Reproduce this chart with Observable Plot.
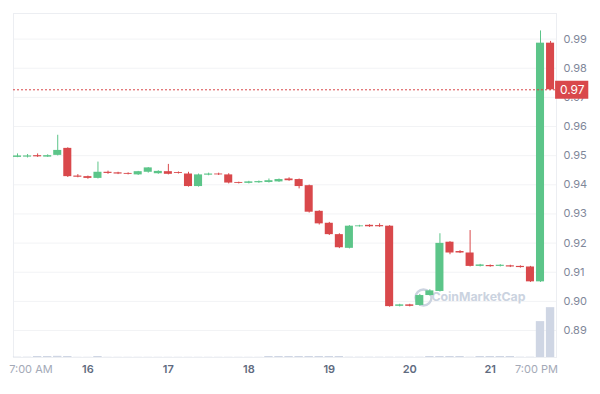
<!DOCTYPE html>
<html><head><meta charset="utf-8">
<script src="https://cdn.jsdelivr.net/npm/d3@7"></script>
<script src="https://cdn.jsdelivr.net/npm/@observablehq/plot@0.6"></script>
<style>body{margin:0;background:#fff;font-family:Inter,sans-serif}</style>
</head><body><div id="chart"></div>
<script>
// 3-hour candles starting 15th 03:00 (UTC used as display zone)
const startTime = Date.UTC(2024, 5, 15, 3);
const stepHours = 3;

const opens  = [0.9494,0.9495,0.9500,0.9495,0.9501,0.9525,0.9430,0.9428,0.9422,0.9443,0.9441,0.9439,0.9434,0.9443,0.9438,0.9445,0.9442,0.9437,0.9394,0.9433,0.9437,0.9434,0.9408,0.9405,0.9407,0.9408,0.9410,0.9420,0.9418,0.9397,0.9309,0.9268,0.9229,0.9182,0.9256,0.9261,0.9260,0.9258,0.8983,0.8988,0.8986,0.9020,0.9034,0.9203,0.9171,0.9166,0.9120,0.9123,0.9120,0.9122,0.9120,0.9118,0.9067,0.9886];
const highs  = [0.9506,0.9504,0.9506,0.9503,0.9570,0.9527,0.9435,0.9430,0.9478,0.9447,0.9443,0.9441,0.9446,0.9459,0.9448,0.9470,0.9444,0.9443,0.9437,0.9440,0.9440,0.9438,0.9409,0.9412,0.9413,0.9420,0.9420,0.9424,0.9420,0.9399,0.9311,0.9271,0.9232,0.9260,0.9261,0.9263,0.9266,0.9260,0.8990,0.8990,0.9024,0.9040,0.9232,0.9205,0.9174,0.9243,0.9127,0.9125,0.9126,0.9124,0.9122,0.9120,0.9928,0.9892];
const lows   = [0.9493,0.9492,0.9494,0.9494,0.9499,0.9425,0.9424,0.9419,0.9420,0.9436,0.9435,0.9434,0.9432,0.9440,0.9436,0.9434,0.9437,0.9392,0.9392,0.9431,0.9432,0.9403,0.9403,0.9403,0.9405,0.9406,0.9408,0.9412,0.9386,0.9303,0.9262,0.9226,0.9181,0.9180,0.9255,0.9254,0.9254,0.8980,0.8981,0.8981,0.8984,0.9018,0.9032,0.9160,0.9164,0.9118,0.9118,0.9117,0.9118,0.9116,0.9114,0.9065,0.9065,0.9724];
const closes = [0.9499,0.9499,0.9496,0.9500,0.9518,0.9428,0.9426,0.9422,0.9443,0.9439,0.9437,0.9436,0.9445,0.9458,0.9446,0.9436,0.9439,0.9394,0.9434,0.9437,0.9434,0.9406,0.9405,0.9410,0.9411,0.9414,0.9418,0.9414,0.9394,0.9306,0.9266,0.9229,0.9184,0.9258,0.9259,0.9256,0.9256,0.8982,0.8988,0.8983,0.9020,0.9036,0.9199,0.9166,0.9166,0.9120,0.9125,0.9119,0.9124,0.9118,0.9116,0.9067,0.9886,0.9726];
// volume in $K
const volumes = [3,3,10,10,12,10,2,2,10,2,2,2,2,2,2,2,2,2,2,2,2,2,2,2,2,10,10,10,10,10,10,10,10,3,3,3,3,3,3,3,3,10,10,10,10,3,10,10,10,10,3,3,360,500];

const yTicks = [0.89,0.90,0.91,0.92,0.93,0.94,0.95,0.96,0.97,0.98,0.99];
const dayTickTimes = ["2024-06-16","2024-06-17","2024-06-18","2024-06-19","2024-06-20","2024-06-21"];
const dayTickLabels = ["16","17","18","19","20","21"];
const edgeTickTimes = ["2024-06-15T07:00Z","2024-06-21T19:00Z"];
const edgeTickLabels = ["7:00 AM","7:00 PM"];

const green = "#5cc589", red = "#d9484b", wm = "#cbd3e0", volColor = "#cfd6e4";
const H = 3600e3;
const half = 1.2 * H;
const yMin = 0.88074, yMax = 0.99878;
const volSpan = 0.0171;
const volMax = d3.max(volumes);

const candles = opens.map((o, i) => ({
  t: new Date(startTime + i * stepHours * H),
  o, h: highs[i], l: lows[i], c: closes[i], v: volumes[i]
}));
const last = closes[closes.length - 1];
const candleAt = k => new Date(startTime + k * stepHours * H);

const dayTicks = dayTickTimes.map((d, i) => ({t: new Date(d + "T00:00Z"), label: dayTickLabels[i]}));
const edgeTicks = edgeTickTimes.map((d, i) => ({t: new Date(d), label: edgeTickLabels[i]}));

const plot = Plot.plot({
  width: 600, height: 394,
  marginLeft: 13, marginRight: 44, marginTop: 13, marginBottom: 37,
  style: {fontFamily: "Inter, sans-serif", background: "white", overflow: "visible"},
  x: {type: "utc", domain: [candleAt(-0.398), candleAt(53.59)], axis: null},
  y: {domain: [yMin, yMax], axis: null},
  marks: [
    Plot.ruleY(yTicks, {stroke: "#f2f3f5", strokeWidth: 1}),
    Plot.frame({stroke: "#eceef2"}),
    // watermark
    Plot.dot({length: 1}, {frameAnchor: "bottom-right", dx: -133, dy: -60, r: 8, stroke: wm, strokeWidth: 2.4, fill: "none"}),
    Plot.text({length: 1}, {frameAnchor: "bottom-right", text: ["CoinMarketCap"], textAnchor: "end", dx: -31, dy: -60, fontSize: 12.3, fontWeight: 700, fill: wm, lineAnchor: "middle"}),
    // volume
    Plot.rect(candles, {
      x1: d => new Date(+d.t - 1.25 * H), x2: d => new Date(+d.t + 1.25 * H),
      y1: yMin, y2: d => yMin + d.v / volMax * volSpan, fill: volColor
    }),
    // wicks
    Plot.ruleX(candles, {x: "t", y1: "l", y2: "h", stroke: d => d.c >= d.o ? green : red, strokeWidth: 1}),
    // bodies
    Plot.rect(candles, {
      x1: d => new Date(+d.t - half), x2: d => new Date(+d.t + half),
      y1: "o", y2: "c", fill: d => d.c >= d.o ? green : red
    }),
    // y labels
    Plot.text(yTicks, {y: d => d, frameAnchor: "right", textAnchor: "start", dx: 7, text: d => d.toFixed(2), fill: "#7f879a", fontSize: 11}),
    // last price line and label
    Plot.ruleY([last], {stroke: red, strokeDasharray: "2,2", strokeWidth: 1}),
    Plot.ruleY([last], {x1: candleAt(53.5), x2: candleAt(56.8), stroke: red, strokeWidth: 18}),
    Plot.text([last], {x: candleAt(55.15), y: d => d, text: d => d.toFixed(2), fill: "white", fontSize: 12}),
    // x labels
    Plot.text(dayTicks, {x: "t", frameAnchor: "bottom", dy: 12, lineAnchor: "middle", text: "label", fill: "#5f6b80", fontSize: 11, fontWeight: 600}),
    Plot.text(edgeTicks.slice(0, 1), {x: "t", frameAnchor: "bottom", dy: 12, lineAnchor: "middle", text: "label", fill: "#a3a9b7", fontSize: 11}),
    Plot.text(edgeTicks.slice(1), {x: "t", frameAnchor: "bottom", dy: 12, lineAnchor: "middle", textAnchor: "end", dx: 4, text: "label", fill: "#a3a9b7", fontSize: 11})
  ]
});
document.getElementById("chart").appendChild(plot);
</script>
</body></html>
